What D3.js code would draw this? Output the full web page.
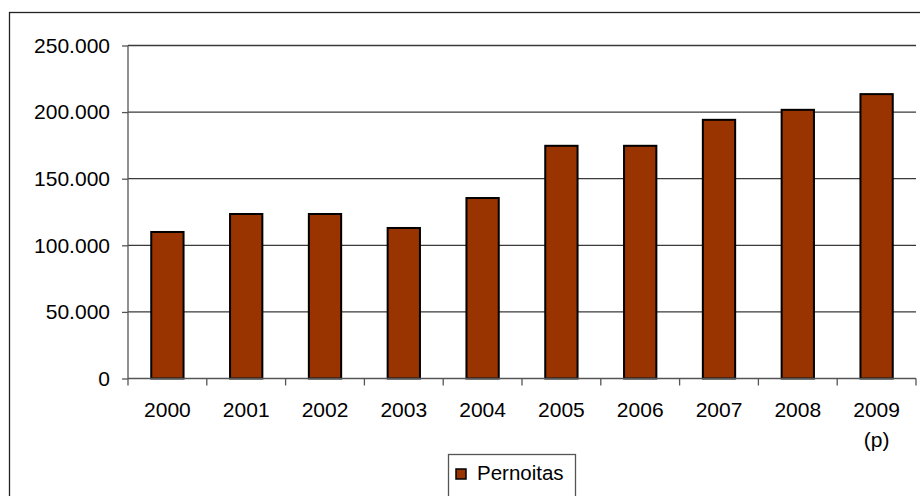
<!DOCTYPE html>
<html>
<head>
<meta charset="utf-8">
<script src="https://cdn.jsdelivr.net/npm/d3@7"></script>
<style>
  body { margin: 0; background: #fff; }
  svg { display: block; font-family: "Liberation Sans", Arial, sans-serif; }
</style>
</head>
<body>
<svg id="chart" width="920" height="496"></svg>
<script>
// data
const years = ['2000', '2001', '2002', '2003', '2004', '2005', '2006', '2007', '2008', '2009'];
const yearLabels = [['2000'], ['2001'], ['2002'], ['2003'], ['2004'], ['2005'], ['2006'], ['2007'], ['2008'], ['2009', '(p)']];
const pernoitas = [110000, 123500, 123500, 113000, 135500, 174700, 174700, 194200, 201700, 213500];
const yTicks = [0, 50000, 100000, 150000, 200000, 250000];
const seriesName = 'Pernoitas';

const svg = d3.select('#chart');
const plotLeft = 128, plotRight = 916, plotTop = 45.5, plotBottom = 378.5;

// outer chart border (right/bottom edges fall outside the picture)
svg.append('rect')
  .attr('x', 9.5).attr('y', 12.5)
  .attr('width', 940).attr('height', 520)
  .attr('fill', 'none').attr('stroke', '#222').attr('stroke-width', 1.3);

const x = d3.scaleBand().domain(years).range([plotLeft, plotRight])
  .paddingInner(0.59).paddingOuter(0.295);
const y = d3.scaleLinear().domain([0, 250000]).range([plotBottom, plotTop]);

const fmt = d => d === 0 ? '0' : d3.format(',')(d).replace(/,/g, '.');

// gridlines
svg.append('g')
  .selectAll('line')
  .data(yTicks.filter(d => d > 0))
  .join('line')
  .attr('x1', plotLeft).attr('x2', plotRight)
  .attr('y1', d => y(d)).attr('y2', d => y(d))
  .attr('stroke', '#3a3a3a').attr('stroke-width', 1.3);

// bars
svg.append('g')
  .selectAll('rect')
  .data(pernoitas)
  .join('rect')
  .attr('x', (d, i) => x(years[i]))
  .attr('y', d => y(d))
  .attr('width', x.bandwidth())
  .attr('height', d => y(0) - y(d))
  .attr('fill', '#993300')
  .attr('stroke', '#000')
  .attr('stroke-width', 2);

// y axis
const yAxis = svg.append('g')
  .attr('transform', `translate(${plotLeft},0)`)
  .call(d3.axisLeft(y).tickValues(yTicks).tickFormat(fmt).tickSize(6).tickPadding(12));
yAxis.selectAll('line, path').attr('stroke', '#555').attr('stroke-width', 1.3);
yAxis.select('.domain').attr('d', `M0,${plotTop}V${plotBottom}`);
yAxis.selectAll('text').attr('font-size', 21).attr('fill', '#000');
yAxis.attr('font-family', null);

// x axis baseline and category boundary ticks
const step = x.step();
const bounds = d3.range(years.length + 1).map(i => plotLeft + i * step);
const xAxis = svg.append('g');
xAxis.append('line')
  .attr('x1', plotLeft).attr('x2', plotRight)
  .attr('y1', plotBottom).attr('y2', plotBottom)
  .attr('stroke', '#555').attr('stroke-width', 1.3);
xAxis.selectAll('.tick-b')
  .data(bounds)
  .join('line')
  .attr('class', 'tick-b')
  .attr('x1', d => d).attr('x2', d => d)
  .attr('y1', plotBottom).attr('y2', plotBottom + 7)
  .attr('stroke', '#555').attr('stroke-width', 1.3);

xAxis.selectAll('text.xl')
  .data(yearLabels)
  .join('text')
  .attr('class', 'xl')
  .attr('text-anchor', 'middle')
  .attr('font-size', 21)
  .attr('transform', (d, i) => `translate(${x(years[i]) + x.bandwidth() / 2},417)`)
  .selectAll('tspan')
  .data(d => d)
  .join('tspan')
  .attr('x', 0)
  .attr('y', (d, i) => i * 30)
  .text(d => d);

// legend
const legend = svg.append('g');
legend.append('rect')
  .attr('x', 448.5).attr('y', 454.5)
  .attr('width', 127).attr('height', 60)
  .attr('fill', '#fff').attr('stroke', '#555').attr('stroke-width', 1.3);
legend.append('rect')
  .attr('x', 456).attr('y', 469)
  .attr('width', 10).attr('height', 10)
  .attr('fill', '#993300').attr('stroke', '#000').attr('stroke-width', 1.5);
legend.append('text')
  .attr('x', 477).attr('y', 479.5)
  .attr('font-size', 20.5)
  .text(seriesName);
</script>
</body>
</html>
